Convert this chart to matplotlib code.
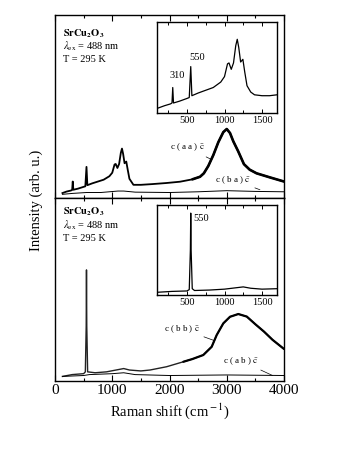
import matplotlib
matplotlib.use("Agg")
import matplotlib.pyplot as plt
from matplotlib.ticker import MultipleLocator

plt.rcParams['font.family'] = ['Liberation Serif', 'DejaVu Serif']
plt.rcParams['mathtext.fontset'] = 'stix'

# ---- data ----
# top panel, c(aa)c-bar, main
aa_x = [130, 200, 280, 300, 310, 320, 400, 500, 530, 550, 565, 650, 750, 850, 950, 1000,
        1040, 1060, 1090, 1120, 1150, 1170, 1190, 1215, 1245, 1270, 1300, 1370, 1500, 1700,
        1950, 2183, 2400, 2533, 2600, 2678, 2766, 2853, 2940, 3000, 3057, 3114, 3200, 3300,
        3400, 3520, 3750, 4000]
aa_y = [0.027, 0.035, 0.041, 0.045, 0.090, 0.045, 0.051, 0.061, 0.064, 0.170, 0.070, 0.080,
        0.090, 0.100, 0.119, 0.138, 0.183, 0.186, 0.164, 0.186, 0.247, 0.270, 0.241, 0.190,
        0.199, 0.155, 0.105, 0.072, 0.072, 0.076, 0.082, 0.089, 0.102, 0.116, 0.135, 0.175,
        0.235, 0.305, 0.360, 0.377, 0.355, 0.310, 0.255, 0.185, 0.155, 0.135, 0.113, 0.090]
# top panel, c(ba)c-bar
ba_x = [130, 300, 550, 800, 1100, 1200, 1400, 2000, 2500, 3000, 3500, 4000]
ba_y = [0.020, 0.025, 0.030, 0.030, 0.038, 0.038, 0.032, 0.030, 0.034, 0.040, 0.036, 0.034]
# top inset, c(aa)c-bar 100-1700
ia_x = [100, 200, 280, 300, 310, 320, 400, 500, 530, 550, 565, 650, 750, 850, 950, 1000,
        1040, 1060, 1090, 1120, 1150, 1170, 1190, 1215, 1245, 1270, 1300, 1350, 1400, 1500,
        1600, 1700]
ia_y = [0.05, 0.08, 0.10, 0.11, 0.28, 0.11, 0.13, 0.16, 0.17, 0.51, 0.19, 0.22, 0.25, 0.28,
        0.34, 0.40, 0.54, 0.55, 0.48, 0.55, 0.74, 0.81, 0.72, 0.56, 0.59, 0.45, 0.30, 0.23,
        0.20, 0.19, 0.19, 0.20]
# bottom panel, c(bb)c-bar
bb_x = [130, 300, 500, 530, 545, 550, 555, 570, 700, 900, 1100, 1200, 1300, 1500, 1659,
        1950, 2241, 2400, 2590, 2737, 2824, 2940, 3057, 3202, 3350, 3500, 3650, 3800, 4000]
bb_y = [0.025, 0.035, 0.040, 0.050, 0.300, 0.607, 0.300, 0.050, 0.045, 0.050, 0.062, 0.068,
        0.060, 0.055, 0.060, 0.078, 0.105, 0.120, 0.142, 0.187, 0.251, 0.315, 0.351, 0.366,
        0.352, 0.310, 0.270, 0.225, 0.175]
# bottom panel, c(ab)c-bar
ab_x = [130, 500, 600, 1000, 1200, 1400, 2000, 3000, 4000]
ab_y = [0.025, 0.030, 0.035, 0.040, 0.045, 0.035, 0.030, 0.033, 0.030]
# bottom inset, c(bb)c-bar 100-1700
ib_x = [100, 300, 500, 530, 545, 550, 555, 570, 600, 800, 1000, 1150, 1250, 1350, 1500, 1700]
ib_y = [0.03, 0.04, 0.045, 0.06, 0.50, 0.91, 0.50, 0.07, 0.05, 0.055, 0.065, 0.08, 0.09,
        0.075, 0.065, 0.07]

main_ticks = [0, 1000, 2000, 3000, 4000]
inset_ticks = [500, 1000, 1500]

W, H = 354, 458
fig = plt.figure(figsize=(W / 100, H / 100), dpi=100)

def fx(px):
    return px / W

def fy(py):
    return 1 - py / H

L, R = 55, 284
ax1 = fig.add_axes([fx(L), fy(198), (R - L) / W, (198 - 15) / H])
ax2 = fig.add_axes([fx(L), fy(381), (R - L) / W, (381 - 198) / H])

for ax in (ax1, ax2):
    ax.set_xlim(0, 4000)
    ax.set_ylim(0, 1)
    ax.set_yticks([])
    ax.xaxis.set_major_locator(MultipleLocator(1000))
    ax.xaxis.set_minor_locator(MultipleLocator(500))
    ax.tick_params(axis='x', which='both', direction='in', top=True, bottom=True)
    ax.tick_params(axis='x', which='major', length=4, width=0.8)
    ax.tick_params(axis='x', which='minor', length=2.5, width=0.8)
    for s in ax.spines.values():
        s.set_linewidth(1.0)
ax1.set_xticks(main_ticks)
ax1.set_xticklabels([])
ax2.set_xticks(main_ticks)
ax2.set_xticklabels([str(t) for t in main_ticks], fontsize=11)
ax2.tick_params(axis='x', which='major', pad=2)
ax2.set_xlabel(r'Raman shift (cm$^{\rm -1}$)', fontsize=10.5, labelpad=3)
fig.text(fx(36), fy(200), 'Intensity (arb. u.)', rotation=90, ha='center', va='center',
         fontsize=10.5)

def thick_part(xs, ys, x0):
    pts = [(x, y) for x, y in zip(xs, ys) if x >= x0]
    return [p[0] for p in pts], [p[1] for p in pts]

ax1.plot(aa_x, aa_y, color='black', lw=1.3)
tx, ty = thick_part(aa_x, aa_y, 2400)
ax1.plot(tx, ty, color='black', lw=1.9, solid_capstyle='round')
ax1.plot(ba_x, ba_y, color='black', lw=0.7)
ax2.plot(bb_x, bb_y, color='#222222', lw=1.0)
tx, ty = thick_part(bb_x, bb_y, 2241)
ax2.plot(tx, ty, color='black', lw=1.6, solid_capstyle='round')
ax2.plot(ab_x, ab_y, color='black', lw=0.7)

def info(ax, ys):
    ax.text(0.035, ys[0], r'$\mathbf{SrCu_2O_3}$', transform=ax.transAxes, fontsize=7.5,
            va='center', ha='left')
    ax.text(0.035, ys[1], r'$\lambda_{\rm ex}$ = 488 nm', transform=ax.transAxes, fontsize=7.5,
            va='center', ha='left')
    ax.text(0.035, ys[2], 'T = 295 K', transform=ax.transAxes, fontsize=7.5,
            va='center', ha='left')

info(ax1, [0.90, 0.83, 0.755])
info(ax2, [0.925, 0.85, 0.78])

lab_kw = dict(fontsize=6.5, ha='right', va='center',
              arrowprops=dict(arrowstyle='-', lw=0.5, color='black', shrinkA=1, shrinkB=0))
ax1.annotate(r'c ( a a ) $\bar{\rm c}$', xy=(2735, 0.21), xytext=(2620, 0.275), **lab_kw)
ax1.annotate(r'c ( b a ) $\bar{\rm c}$', xy=(3580, 0.045), xytext=(3420, 0.10), **lab_kw)
ax2.annotate(r'c ( b b ) $\bar{\rm c}$', xy=(2790, 0.22), xytext=(2530, 0.285), **lab_kw)
ax2.annotate(r'c ( a b ) $\bar{\rm c}$', xy=(3800, 0.03), xytext=(3560, 0.11), **lab_kw)

def inset(top, bot, xs, ys):
    ax = fig.add_axes([fx(157), fy(bot), 120 / W, (bot - top) / H])
    ax.plot(xs, ys, color='black', lw=0.9)
    ax.set_xlim(100, 1700)
    ax.set_ylim(0, 1)
    ax.set_yticks([])
    ax.set_xticks(inset_ticks)
    ax.set_xticklabels([str(t) for t in inset_ticks], fontsize=7.5)
    ax.xaxis.set_minor_locator(MultipleLocator(250))
    ax.tick_params(axis='x', which='both', direction='in', top=True, bottom=True, pad=2)
    ax.tick_params(axis='x', which='major', length=3, width=0.7)
    ax.tick_params(axis='x', which='minor', length=2, width=0.7)
    for s in ax.spines.values():
        s.set_linewidth(1.0)
    return ax

in1 = inset(22, 113, ia_x, ia_y)
in1.text(370, 0.41, '310', fontsize=7.5, ha='center', va='center')
in1.text(640, 0.615, '550', fontsize=7.5, ha='center', va='center')
in2 = inset(205, 295, ib_x, ib_y)
in2.text(580, 0.855, '550', fontsize=7.5, ha='left', va='center')

fig.savefig('out.png', dpi=100)
